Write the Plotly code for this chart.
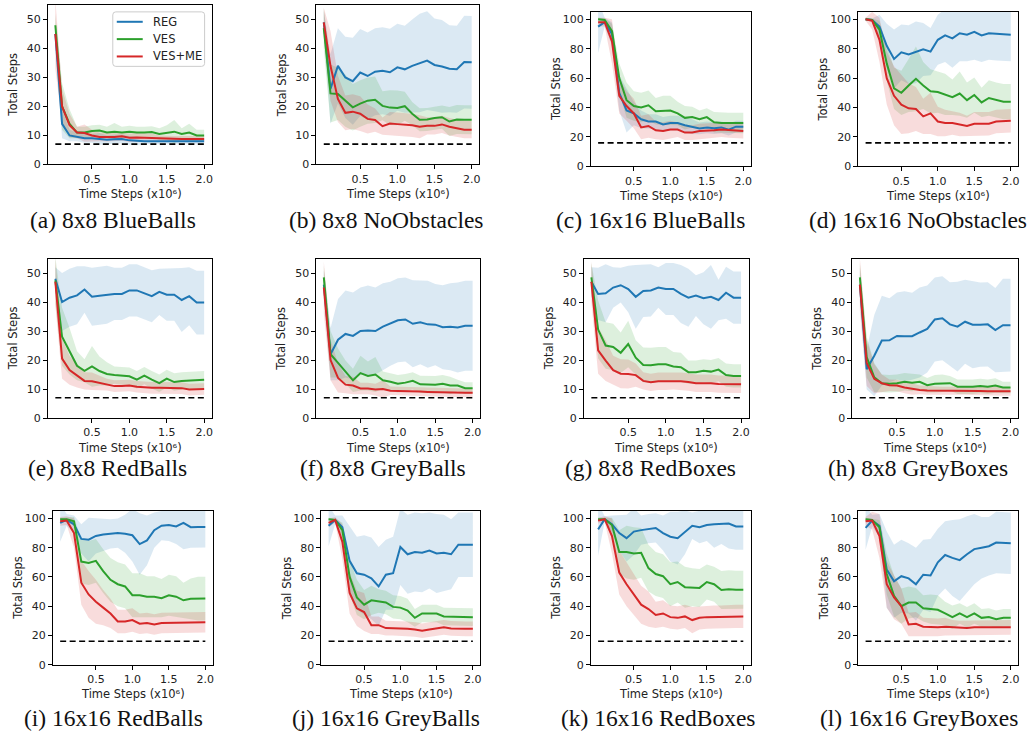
import plotly.graph_objects as go

# ---------------- data ----------------
X = [0.01, 0.1, 0.2, 0.3, 0.4, 0.5, 0.6, 0.7, 0.8, 0.9, 1.0,
     1.1, 1.2, 1.3, 1.4, 1.5, 1.6, 1.7, 1.8, 1.9, 2.0]

CAPTIONS = ["(a) 8x8 BlueBalls", "(b) 8x8 NoObstacles", "(c) 16x16 BlueBalls", "(d) 16x16 NoObstacles",
            "(e) 8x8 RedBalls", "(f) 8x8 GreyBalls", "(g) 8x8 RedBoxes", "(h) 8x8 GreyBoxes",
            "(i) 16x16 RedBalls", "(j) 16x16 GreyBalls", "(k) 16x16 RedBoxes", "(l) 16x16 GreyBoxes"]
OPTIMAL = [7, 7, 16, 16, 7, 7, 7, 7, 16, 16, 16, 16]
YMAX = [55, 55, 105, 105, 55, 55, 55, 55, 105, 105, 105, 105]
SERIES = ["REG", "VES", "VES+ME"]

A_REG = [45, 14, 10, 9.5, 9, 9, 8.8, 8.5, 8.7, 8.8, 8.3, 8.1, 8, 8, 8, 8, 8, 8, 8, 8, 8]
A_REG_SD = [4, 5, 2, 1.5, 1.5, 1.5, 2, 1.5, 1.5, 1.5, 1.5, 1.5, 1, 1, 1, 1, 1, 1, 1, 1, 1]
A_VES = [48, 20, 14, 11, 11, 11.5, 11.7, 11, 11.3, 11, 11.3, 11, 11, 11.2, 10.5, 11, 11.3, 10.5, 11, 10, 10]
A_VES_SD = [4, 8, 5, 2, 2, 2, 2, 2, 3, 2, 2, 2, 2, 2, 2, 2.5, 4, 2, 3, 2, 2]
A_VESME = [45, 20, 13.5, 11, 10.8, 10, 9.5, 9.4, 9.5, 9.7, 9.2, 9.3, 9.2, 9.2, 9, 8.8, 8.8, 8.8, 8.8, 8.8, 8.8]
A_VESME_SD = [12, 6, 4, 2, 3, 2, 1.5, 1.5, 1.5, 1.5, 1.5, 1.5, 1.5, 1.5, 1, 1, 1, 1, 1, 1, 1]

B_REG = [49, 26, 34, 30, 28.7, 31.7, 30.5, 32, 32.3, 31.8, 33.5, 32.8, 34, 35, 35.8, 34.3, 33.8, 33, 32.8, 35.3, 35.2]
B_REG_SD = [4, 12, 13, 14, 15, 15, 15, 15, 15, 15, 15, 15, 16, 17, 17, 16, 16, 15, 15, 16, 16]
B_VES = [47, 24.5, 24.3, 22, 19.7, 21, 22, 22.3, 20.2, 19.6, 19.5, 20.1, 17.5, 15.4, 15.5, 16, 16.3, 14.8, 15.5, 15.4, 15.4]
B_VES_SD = [7, 10, 9, 9, 8, 8, 8, 8, 5, 6, 6, 5, 4, 4, 4, 4, 4, 5, 5, 5, 5]
B_VESME = [49, 34, 22.6, 17.8, 18.2, 17.5, 15.7, 15.3, 13.2, 14.1, 13.9, 13.7, 13.5, 13, 13.3, 13.3, 13.8, 13, 12.5, 12, 12]
B_VESME_SD = [5, 12, 8, 6, 6, 6, 5, 4, 3, 4, 4, 4, 4, 4, 3, 3, 3, 3, 3, 3, 3]

C_REG = [95, 98, 90, 50, 38, 36, 32, 30.5, 30.5, 28.5, 29.5, 29.5, 28, 27, 25.8, 26.5, 26, 26.5, 25, 27, 27]
C_REG_SD = [18, 3, 8, 12, 15, 8, 6, 5, 5, 5, 5, 5, 5, 5, 4, 4, 4, 4, 4, 4, 4]
C_VES = [100, 99.5, 92, 60, 45, 41, 40, 41.5, 37.5, 38, 38, 36, 33, 33.5, 32, 33.5, 30, 29.5, 29.5, 29.5, 29.5]
C_VES_SD = [1, 1, 5, 10, 12, 10, 10, 10, 9, 10, 10, 8, 8, 7, 6, 6, 7, 7, 7, 7, 7]
C_VESME = [98, 98, 85, 48, 41, 36, 26.5, 27.5, 24.5, 24, 25, 25, 23, 23, 24, 24, 24.5, 25, 24.5, 24, 24]
C_VESME_SD = [3, 3, 15, 12, 10, 10, 8, 8, 6, 6, 6, 5, 5, 5, 5, 5, 5, 5, 5, 5, 5]

D_REG = [100, 99.5, 95, 82, 73, 77.5, 76, 77.5, 79.5, 78, 86, 89, 87, 90.5, 89.5, 91.5, 89, 90.5, 90, 89.5, 89.5]
D_REG_SD = [1, 1, 8, 15, 20, 19, 20, 21, 18, 16, 17, 18, 20, 19, 18, 19, 18, 18, 18, 18, 18]
D_VES = [100, 99.5, 93, 70, 53, 50, 55, 59.5, 55, 51, 50.5, 49, 47, 49.5, 45, 48.5, 43.5, 46.5, 45, 44, 44]
D_VES_SD = [1, 1, 6, 12, 14, 15, 18, 22, 16, 15, 14, 14, 12, 15, 12, 12, 10, 12, 12, 12, 12]
D_VESME = [100, 99, 86, 60, 48, 42, 39.5, 39, 34, 36, 30.5, 29.5, 29.5, 28.5, 27.5, 29, 29, 29, 30.5, 31, 31]
D_VESME_SD = [1, 6, 15, 18, 20, 20, 17, 15, 12, 14, 10, 9, 8, 8, 7, 8, 8, 8, 8, 8, 8]

E_REG = [48, 40, 41.5, 42.3, 44.3, 41.8, 42.2, 42.5, 42.8, 42.8, 44, 44, 43, 42, 43.5, 42.5, 42.5, 40.7, 42, 39.8, 39.8]
E_REG_SD = [4, 10, 10, 10, 8, 10, 10, 10, 9, 9, 9, 9, 9, 9, 8, 9, 9, 11, 10, 11, 11]
E_VES = [47.5, 28, 23, 18, 16.3, 17.8, 16.2, 15.2, 14.8, 14.5, 14.4, 13.2, 14.6, 13.2, 12, 13.6, 12.4, 12.8, 13, 13.2, 13.2]
E_VES_SD = [8, 10, 8, 5, 4, 7, 5, 4, 3, 3, 3, 3, 3, 3, 3, 3, 3, 3, 3, 3, 3]
E_VESME = [47, 20.5, 16.5, 14.5, 12.8, 12.7, 12.2, 11.5, 11, 11, 11.2, 10.8, 10.5, 10.4, 10.4, 10.3, 10.4, 10.3, 9.8, 10, 10]
E_VESME_SD = [8, 7, 5, 4, 3, 3, 2.5, 2, 2, 2, 2, 2, 2, 2, 2, 2, 2, 2, 2, 2, 2]

F_REG = [46, 22, 27, 29, 28.3, 30, 30.2, 30, 31.5, 32.5, 33.7, 34, 32.5, 33, 32.3, 32.2, 31.3, 31.5, 31.2, 31.8, 31.8]
F_REG_SD = [5, 9, 14, 15, 15, 15, 15.5, 15, 15, 14.5, 14.5, 14.5, 15, 14.5, 15, 14, 14.5, 15, 15.5, 15.5, 15.5]
F_VES = [48.5, 22, 19, 15.8, 13, 15.5, 14.5, 15, 13, 12.5, 11.8, 12.2, 12.8, 11.6, 11.5, 11.5, 11.8, 11.2, 11.2, 10.3, 10.3]
F_VES_SD = [4, 8, 5, 4, 4, 6, 5, 6, 3, 3, 3, 3, 3, 3, 3, 3, 3, 3, 2, 2, 2]
F_VESME = [45, 20, 13.8, 11.5, 11.2, 10.2, 10.2, 9.8, 10, 9.4, 9.3, 9.3, 9.2, 9.1, 9, 8.9, 8.8, 8.7, 8.7, 8.7, 8.7]
F_VESME_SD = [9, 7, 5, 3, 3, 2, 2, 2, 3, 1.5, 1.5, 1.5, 1.5, 1.5, 1.5, 1.5, 1.5, 1.5, 1.5, 1.5, 1.5]

G_REG = [47, 42.8, 43, 45, 45.8, 44.5, 41.8, 43.8, 44, 45, 44.5, 44.5, 42.8, 41.5, 42.2, 41.3, 41.8, 40.7, 43.2, 41.5, 41.5]
G_REG_SD = [5, 9, 10, 7, 6, 8, 11, 9, 9, 7, 9, 9, 10, 10, 7, 9, 11, 7, 9, 9, 9]
G_VES = [48.5, 30.5, 25, 24.5, 22.5, 25.5, 20.8, 18.3, 18.2, 18.5, 18.5, 17.8, 17.5, 15.8, 15.8, 16.3, 16, 16.7, 14.8, 14.5, 14.5]
G_VES_SD = [5, 10, 8, 8, 7, 8, 6, 6, 6, 6, 6, 5, 5, 4, 4, 4, 4, 4, 4, 4, 4]
G_VESME = [47, 23.3, 19.8, 16.5, 15.3, 15.2, 14.8, 12.8, 12.3, 12.7, 12.7, 12.8, 12.7, 12.4, 12, 12, 12, 11.7, 11.6, 11.6, 11.6]
G_VESME_SD = [7, 8, 7, 5, 5, 5, 4, 3, 3, 3, 3, 3, 3, 3, 3, 3, 3, 3, 3, 3, 3]

H_REG = [46, 16.8, 21.5, 26.7, 26.8, 28.3, 28.2, 28.2, 29.5, 30.7, 34, 34.4, 32.3, 31.5, 33.2, 32.2, 32.2, 32.3, 30.3, 32, 32]
H_REG_SD = [6, 7, 14, 15.5, 14.5, 15, 15.5, 15, 15.5, 15, 14.5, 14.5, 14.5, 15.5, 14.5, 15, 14.5, 14.5, 14.5, 16, 16]
H_VES = [48.5, 21, 14, 12, 11.8, 12, 12.5, 12.2, 12.5, 11.3, 11.8, 12, 12, 10.8, 10.7, 10.8, 11, 10.8, 11.2, 10.5, 10.5]
H_VES_SD = [5, 7, 5, 3, 3, 3, 3, 3, 2.5, 2.5, 3, 3, 2.5, 2.5, 2.5, 2.5, 2.5, 2.5, 2.5, 2, 2]
H_VESME = [46, 19, 13.5, 12, 11.3, 11.2, 10.5, 10, 9.7, 9.5, 9.5, 9.3, 9.3, 9.5, 9.5, 9.4, 9.3, 9.2, 9.2, 9.2, 9.2]
H_VESME_SD = [9, 8, 5, 3, 2, 2, 2, 2, 1.5, 1.5, 1.5, 1.5, 1.5, 1.5, 1.5, 1.5, 1.5, 1.5, 1.5, 1.5, 1.5]

I_REG = [97, 99, 96, 86, 85.5, 88, 89, 89.5, 90, 89.5, 88.5, 82.5, 85, 92, 95, 95.5, 94.5, 97, 94, 94.2, 94.2]
I_REG_SD = [13, 4, 6, 10, 15, 12, 11, 10, 10, 13, 18, 21, 17, 12, 10, 11, 12, 18, 14, 14, 14]
I_VES = [99.5, 99.5, 98, 70.5, 69.5, 71, 64, 58, 55, 53.5, 47.5, 47.5, 46.5, 46.5, 45.5, 47.5, 46.5, 44, 45, 45.2, 45.2]
I_VES_SD = [1, 1, 3, 15, 15, 15, 15, 15, 15, 15, 15, 15, 14, 14, 13, 14, 14, 12, 14, 15, 15]
I_VESME = [98, 98.5, 90, 56, 48, 43, 39, 35, 29.5, 29.5, 30.5, 28, 28.5, 27.5, 28.5, 28.5, 28.5, 29, 29, 29, 29]
I_VESME_SD = [3, 3, 10, 15, 16, 15, 12, 10, 8, 8, 8, 7, 7, 7, 7, 7, 7, 7, 7, 7, 7]

J_REG = [95, 99, 94, 71, 62.5, 61.5, 59, 53.5, 61.5, 62.5, 80.5, 75.5, 77, 76.5, 78, 76, 76.5, 75.5, 82, 82, 82]
J_REG_SD = [14, 3, 8, 24, 25, 27, 28, 27, 24, 25, 26, 27, 27, 27, 26, 27, 26, 24, 22, 22, 22]
J_VES = [99.5, 99, 92, 60, 46, 41, 44, 43.5, 42.5, 39.5, 39, 37, 32, 35, 35, 35, 33, 33, 32.5, 32.5, 32.5]
J_VES_SD = [1, 1, 5, 12, 12, 10, 10, 8, 8, 8, 8, 8, 6, 6, 6, 6, 6, 6, 6, 6, 6]
J_VESME = [97, 99, 84, 49, 38.5, 36, 27, 27, 25, 25, 25, 24.5, 24, 23.2, 24, 24.8, 25.5, 24.8, 24.5, 24.5, 24.5]
J_VESME_SD = [3, 2, 12, 14, 12, 13, 6, 6, 5, 5, 5, 5, 5, 5, 5, 5, 5, 5, 5, 5, 5]

K_REG = [92.5, 99.5, 96, 90, 86.5, 91, 92, 93, 93.5, 90, 87.5, 86.5, 90.5, 95, 94, 95.5, 96, 96.5, 96.5, 94.5, 94.5]
K_REG_SD = [18, 2, 6, 12, 16, 16, 10, 10, 10, 12, 17, 18, 15, 9, 11, 11, 16, 14, 17, 16, 16]
K_VES = [99.5, 99.5, 95.5, 77, 77, 76, 76.5, 66, 62, 60.5, 55, 56.5, 53, 53, 52.5, 56.5, 55, 51, 51.5, 51.2, 51.2]
K_VES_SD = [1, 1, 5, 15, 18, 18, 17, 16, 15, 15, 15, 14, 14, 13, 13, 12, 12, 13, 13, 13, 13]
K_VESME = [98.5, 99.5, 88, 63, 55, 48, 41, 38, 34, 35, 32.5, 32, 33, 30.5, 32, 32.5, 32.5, 32.5, 33, 33, 33]
K_VESME_SD = [2, 2, 12, 15, 15, 14, 13, 12, 9, 9, 8, 8, 8, 9, 8, 8, 8, 8, 8, 8, 8]

L_REG = [93.5, 98.5, 95, 65, 57, 60.5, 59, 55, 61.5, 61, 70, 75, 73, 71.5, 75.5, 79, 80, 81, 83.5, 83, 83]
L_REG_SD = [15, 4, 8, 26, 25, 25, 24, 25, 24, 25, 23, 23, 26, 28, 26, 24, 21, 20, 21, 21, 21]
L_VES = [99.5, 99, 94, 62, 47, 40, 42.5, 42.5, 38.5, 38, 37.5, 35, 32.5, 35, 32.5, 35, 32, 32.5, 31, 32, 32]
L_VES_SD = [1, 1, 5, 14, 14, 12, 11, 10, 9, 10, 10, 8, 8, 7, 7, 7, 6, 6, 6, 6, 6]
L_VESME = [98, 98.5, 88, 55, 46, 40, 27.5, 28, 26, 25.5, 25.5, 26, 25.5, 25, 25, 25.5, 25.5, 25.5, 25.5, 25.5, 25.5]
L_VESME_SD = [3, 6, 15, 16, 15, 12, 8, 8, 6, 6, 6, 6, 5, 5, 5, 5, 5, 5, 5, 5, 5]

PANEL_DATA = [
    [(A_REG, A_REG_SD), (A_VES, A_VES_SD), (A_VESME, A_VESME_SD)],
    [(B_REG, B_REG_SD), (B_VES, B_VES_SD), (B_VESME, B_VESME_SD)],
    [(C_REG, C_REG_SD), (C_VES, C_VES_SD), (C_VESME, C_VESME_SD)],
    [(D_REG, D_REG_SD), (D_VES, D_VES_SD), (D_VESME, D_VESME_SD)],
    [(E_REG, E_REG_SD), (E_VES, E_VES_SD), (E_VESME, E_VESME_SD)],
    [(F_REG, F_REG_SD), (F_VES, F_VES_SD), (F_VESME, F_VESME_SD)],
    [(G_REG, G_REG_SD), (G_VES, G_VES_SD), (G_VESME, G_VESME_SD)],
    [(H_REG, H_REG_SD), (H_VES, H_VES_SD), (H_VESME, H_VESME_SD)],
    [(I_REG, I_REG_SD), (I_VES, I_VES_SD), (I_VESME, I_VESME_SD)],
    [(J_REG, J_REG_SD), (J_VES, J_VES_SD), (J_VESME, J_VESME_SD)],
    [(K_REG, K_REG_SD), (K_VES, K_VES_SD), (K_VESME, K_VESME_SD)],
    [(L_REG, L_REG_SD), (L_VES, L_VES_SD), (L_VESME, L_VESME_SD)],
]

# ---------------- layout / style ----------------
W, H = 1034, 740
# axes boxes in pixels: left, right, top, bottom
BOXES = [(48, 212, 5, 166), (317, 480, 5, 166), (592, 752, 12, 168), (860, 1020, 12, 168),
         (48, 212, 261, 422), (317, 481, 261, 422), (585, 750, 261, 422), (854, 1020, 261, 422),
         (53, 213, 516, 671), (322, 481, 516, 671), (592, 752, 516, 671), (860, 1020, 516, 671)]
CAP_POS = [(113, 222), (387, 222), (652, 222), (920, 222),
           (108, 472), (384, 472), (652, 472), (920, 472),
           (114, 725), (387, 725), (660, 725), (921, 725)]
COLORS = ["#1f77b4", "#2ca02c", "#d62728"]
FILLS = ["rgba(31,119,180,0.16)", "rgba(44,160,44,0.16)", "rgba(214,39,40,0.16)"]
TXT = "#222222"
TICKFONT = dict(family="DejaVu Sans", size=11, color=TXT)
LABELFONT = dict(family="DejaVu Sans", size=11.5, color=TXT)


def px(x):
    return x / W


def py(y):
    return 1 - y / H


fig = go.Figure()
annotations = []
shapes = []
layout_axes = {}

for i, series in enumerate(PANEL_DATA):
    n = i + 1
    xa = "x" if n == 1 else f"x{n}"
    ya = "y" if n == 1 else f"y{n}"
    l, r, t, b = BOXES[i]
    # shaded bands
    for k, (mean, sd) in enumerate(series):
        up = [m + s for m, s in zip(mean, sd)]
        lo = [m - s for m, s in zip(mean, sd)]
        fig.add_trace(go.Scatter(x=X + X[::-1], y=up + lo[::-1], fill="toself",
                                 fillcolor=FILLS[k], line=dict(width=0), mode="lines",
                                 hoverinfo="skip", showlegend=False, xaxis=xa, yaxis=ya))
    # mean lines
    for k, (mean, sd) in enumerate(series):
        fig.add_trace(go.Scatter(x=X, y=mean, mode="lines", name=SERIES[k],
                                 line=dict(color=COLORS[k], width=2),
                                 showlegend=False, xaxis=xa, yaxis=ya))
    # optimal reference
    fig.add_trace(go.Scatter(x=[X[0], X[-1]], y=[OPTIMAL[i], OPTIMAL[i]], mode="lines",
                             line=dict(color="black", width=1.6, dash="6px,3.5px"),
                             showlegend=False, hoverinfo="skip", xaxis=xa, yaxis=ya))

    ymax = YMAX[i]
    ystep = 10 if ymax < 100 else 20
    layout_axes["xaxis" if n == 1 else f"xaxis{n}"] = dict(
        domain=[px(l), px(r)], anchor=ya, range=[-0.0895, 2.0995],
        tickvals=[0.5, 1.0, 1.5, 2.0], ticktext=["0.5", "1.0", "1.5", "2.0"],
        showgrid=False, zeroline=False, showline=True, mirror=True,
        linecolor="black", linewidth=1, ticks="outside", ticklen=4, tickwidth=1,
        tickcolor="black", tickfont=TICKFONT)
    layout_axes["yaxis" if n == 1 else f"yaxis{n}"] = dict(
        domain=[py(b), py(t)], anchor=xa, range=[0, ymax],
        tickvals=list(range(0, ymax, ystep)),
        showgrid=False, zeroline=False, showline=True, mirror=True,
        linecolor="black", linewidth=1, ticks="outside", ticklen=4, tickwidth=1,
        tickcolor="black", tickfont=TICKFONT)

    annotations.append(dict(text="Time Steps (x10\u2076)", xref="paper", yref="paper",
                            x=px((l + r) / 2), y=py(b + 30), xanchor="center", yanchor="middle",
                            showarrow=False, font=LABELFONT))
    annotations.append(dict(text="Total Steps", xref="paper", yref="paper", textangle=-90,
                            x=px(l - 35), y=py((t + b) / 2), xanchor="center", yanchor="middle",
                            showarrow=False, font=LABELFONT))
    cx, cy = CAP_POS[i]
    annotations.append(dict(text=CAPTIONS[i], xref="paper", yref="paper",
                            x=px(cx), y=py(cy), xanchor="center", yanchor="middle",
                            showarrow=False, font=dict(family="Liberation Serif", size=23.5, color="#111111")))

# legend drawn inside panel (a)
LX0, LX1, LY0, LY1, RAD = 113, 205, 12, 67, 3
path = (f"M {px(LX0 + RAD)},{py(LY0)} L {px(LX1 - RAD)},{py(LY0)} "
        f"Q {px(LX1)},{py(LY0)} {px(LX1)},{py(LY0 + RAD)} L {px(LX1)},{py(LY1 - RAD)} "
        f"Q {px(LX1)},{py(LY1)} {px(LX1 - RAD)},{py(LY1)} L {px(LX0 + RAD)},{py(LY1)} "
        f"Q {px(LX0)},{py(LY1)} {px(LX0)},{py(LY1 - RAD)} L {px(LX0)},{py(LY0 + RAD)} "
        f"Q {px(LX0)},{py(LY0)} {px(LX0 + RAD)},{py(LY0)} Z")
shapes.append(dict(type="path", xref="paper", yref="paper", path=path,
                   line=dict(color="#cccccc", width=1), fillcolor="rgba(255,255,255,0.85)"))
for k, name in enumerate(SERIES):
    yy = 22 + k * 17.5
    shapes.append(dict(type="line", xref="paper", yref="paper", x0=px(117), x1=px(143),
                       y0=py(yy), y1=py(yy), line=dict(color=COLORS[k], width=2)))
    annotations.append(dict(text=name, xref="paper", yref="paper", x=px(151), y=py(yy),
                            xanchor="left", yanchor="middle", showarrow=False,
                            font=dict(family="DejaVu Sans", size=11.5, color=TXT)))

fig.update_layout(
    width=W, height=H, autosize=False,
    margin=dict(l=0, r=0, t=0, b=0),
    paper_bgcolor="white", plot_bgcolor="white",
    annotations=annotations, shapes=shapes,
    showlegend=False,
    **layout_axes,
)

fig.write_html("out.html",
               config={"displayModeBar": False},
               post_script="document.body.style.margin='0';document.body.style.padding='0';")
